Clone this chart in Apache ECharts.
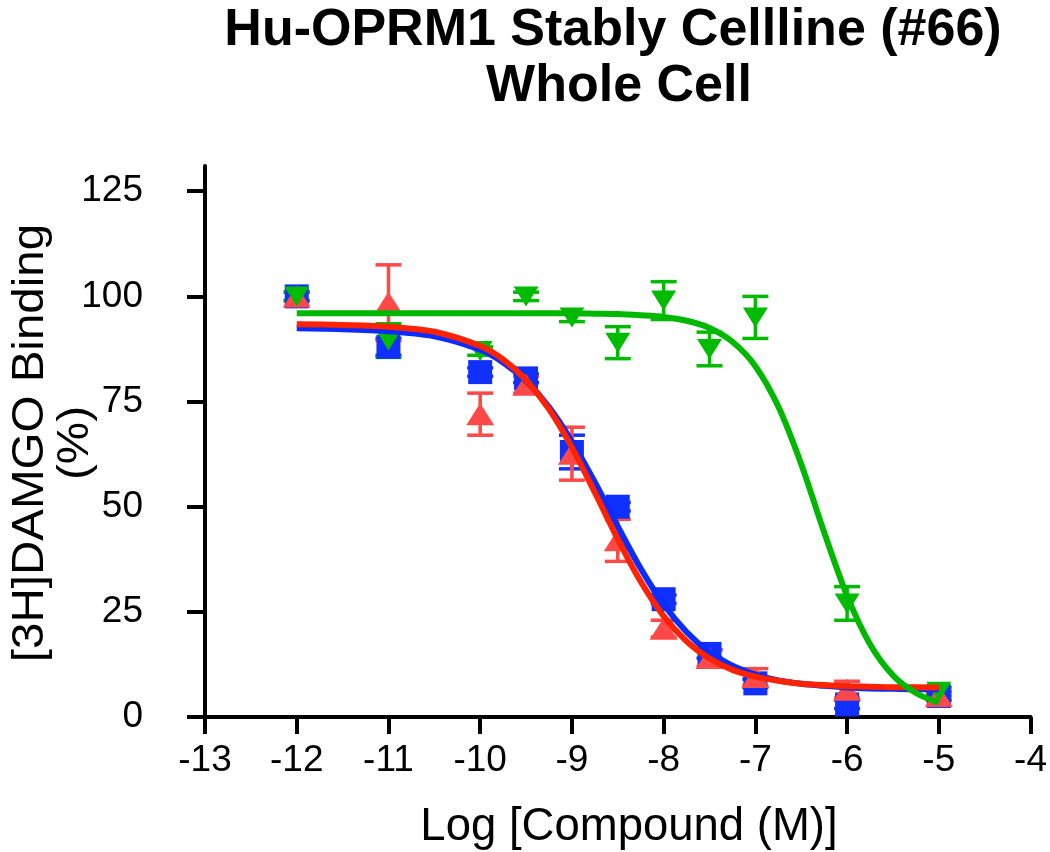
<!DOCTYPE html>
<html>
<head>
<meta charset="utf-8">
<script src="https://cdn.jsdelivr.net/npm/echarts@6/dist/echarts.min.js"></script>
<style>
html,body{margin:0;padding:0;background:#fff;}
#chart{width:1050px;height:852px;}
</style>
</head>
<body>
<div id="chart"></div>
<script>
// ---- data ----
const doseX = [-12, -11, -10, -9.5, -9, -8.5, -8, -7.5, -7, -6, -5];
const blueY   = [100, 88, 82, 80.5, 63, 50, 28, 15, 8, 3, 5];
const blueErr = [1, 2, 1, 1, 4, 1, 1, 1, 1, 1, 1];
const redY    = [100, 98.5, 72, 79, 62.6, 42, 21, 14, 9.5, 6.5, 5];
const redErr  = [1, 9, 5, 2, 6.3, 5, 2, 2, 2, 2, 1];
const greenY  = [100, 89.5, 87, 100, 95, 89, 99, 87.5, 95, 27, 6];
const greenErr= [1, 4, 1, 1, 1, 3.8, 4.5, 4, 5, 4, 1];

// fitted curves
const curveX = [-12, -11.5, -11, -10.5, -10, -9.75, -9.5, -9.25, -9, -8.75, -8.5, -8.25, -8, -7.75, -7.5, -7.25, -7, -6.75, -6.5, -6.25, -6, -5.75, -5.5, -5.25, -5];
const blueCurve  = [92.4, 92.2, 91.7, 90.5, 87.3, 84.3, 79.9, 73.7, 65.5, 55.8, 45.3, 35.3, 26.8, 20.2, 15.4, 12.2, 10.1, 8.7, 7.9, 7.4, 7.0, 6.8, 6.7, 6.6, 6.6];
const redCurve   = [93.4, 93.2, 92.8, 91.6, 88.2, 85.0, 80.1, 73.2, 64.1, 53.4, 42.3, 32.2, 24.0, 18.0, 13.9, 11.2, 9.6, 8.6, 7.9, 7.6, 7.3, 7.2, 7.1, 7.1, 7.0];
const greenCurve = [96.0, 96.0, 96.0, 96.0, 96.0, 96.0, 96.0, 96.0, 96.0, 95.9, 95.8, 95.5, 95.1, 94.2, 92.5, 89.2, 83.4, 73.8, 60.1, 43.9, 28.8, 17.3, 9.9, 5.7, 3.4];

const yTicks = [0, 25, 50, 75, 100, 125];
const titleLines = ['Hu-OPRM1 Stably Cellline (#66)', 'Whole Cell'];
const xName = 'Log [Compound (M)]';
const yName = '[3H]DAMGO Binding\n(%)';

// ---- styles ----
const FONT = '"Liberation Sans", Arial, sans-serif';
const C_BLUE = '#0a2cff', C_BLUE_L = '#1030ff';
const C_RED = '#ff2200', C_RED_M = '#ff4848';
const C_GREEN = '#00b800', C_GREEN_M = '#00bb00';

function zip(xs, ys) { return xs.map((x, i) => [x, ys[i]]); }
function zip3(xs, ys, es) { return xs.map((x, i) => [x, ys[i], es[i]]); }

function errSeries(data, color) {
  return {
    type: 'custom',
    data: data,
    silent: true,
    renderItem: function (params, api) {
      const x = api.value(0), y = api.value(1), e = api.value(2);
      const p1 = api.coord([x, y + e]);
      const p2 = api.coord([x, y - e]);
      const w = 13;
      const st = { stroke: color, lineWidth: 3.5 };
      return {
        type: 'group',
        children: [
          { type: 'line', shape: { x1: p1[0], y1: p1[1], x2: p2[0], y2: p2[1] }, style: st },
          { type: 'line', shape: { x1: p1[0] - w, y1: p1[1], x2: p1[0] + w, y2: p1[1] }, style: st },
          { type: 'line', shape: { x1: p2[0] - w, y1: p2[1], x2: p2[0] + w, y2: p2[1] }, style: st }
        ]
      };
    }
  };
}

function curveSeries(data, color) {
  return {
    type: 'line', data: data, smooth: 0.3, showSymbol: false, symbol: 'none',
    lineStyle: { color: color, width: 6 }, silent: true
  };
}

function pointSeries(data, color, symbol, size, rotate) {
  return {
    type: 'scatter', data: data, symbol: symbol, symbolSize: size, symbolRotate: rotate || 0,
    itemStyle: { color: color, opacity: 1 }, silent: true
  };
}

const chart = echarts.init(document.getElementById('chart'), null, { renderer: 'canvas' });
chart.setOption({
  animation: false,
  backgroundColor: '#fff',
  textStyle: { fontFamily: FONT },
  grid: { left: 205, right: 17, top: 166, bottom: 135, containLabel: false },
  xAxis: {
    type: 'value', min: -13, max: -4, interval: 1,
    axisLine: { show: true, lineStyle: { color: '#000', width: 4 } },
    axisTick: { show: true, inside: false, length: 17, lineStyle: { color: '#000', width: 4 } },
    axisLabel: { color: '#000', fontSize: 37, fontFamily: FONT, margin: 25 },
    splitLine: { show: false }
  },
  yAxis: {
    type: 'value', min: 0, max: 131, interval: 25,
    axisLine: { show: true, lineStyle: { color: '#000', width: 4 } },
    axisTick: { show: true, inside: false, length: 18, lineStyle: { color: '#000', width: 4 }, customValues: yTicks },
    axisLabel: { color: '#000', fontSize: 37, fontFamily: FONT, margin: 62, customValues: yTicks },
    splitLine: { show: false }
  },
  graphic: [
    { type: 'text', x: 613, y: 31, style: { text: titleLines[0], font: 'bold 52px ' + FONT, fill: '#000', textAlign: 'center', textVerticalAlign: 'middle' } },
    { type: 'text', x: 619, y: 87, style: { text: titleLines[1], font: 'bold 52px ' + FONT, fill: '#000', textAlign: 'center', textVerticalAlign: 'middle' } },
    { type: 'text', x: 629, y: 827, style: { text: xName, font: '45.5px ' + FONT, fill: '#000', textAlign: 'center', textVerticalAlign: 'middle' } },
    { type: 'text', x: 53, y: 443, rotation: Math.PI / 2, scaleX: 1.08, style: { text: yName, font: '44px ' + FONT, lineHeight: 45, fill: '#000', textAlign: 'center', textVerticalAlign: 'middle' } }
  ],
  series: [
    curveSeries(zip(curveX, blueCurve), C_BLUE),
    errSeries(zip3(doseX, blueY, blueErr), C_BLUE_L),
    pointSeries(zip(doseX, blueY), C_BLUE_L, 'rect', 24),
    curveSeries(zip(curveX, redCurve), C_RED),
    errSeries(zip3(doseX, redY, redErr), C_RED_M),
    pointSeries(zip(doseX, redY), C_RED_M, 'triangle', [28, 22]),
    curveSeries(zip(curveX, greenCurve), C_GREEN),
    errSeries(zip3(doseX, greenY, greenErr), C_GREEN_M),
    pointSeries(zip(doseX, greenY), C_GREEN_M, 'triangle', [25, 20], 180)
  ]
});
</script>
</body>
</html>
